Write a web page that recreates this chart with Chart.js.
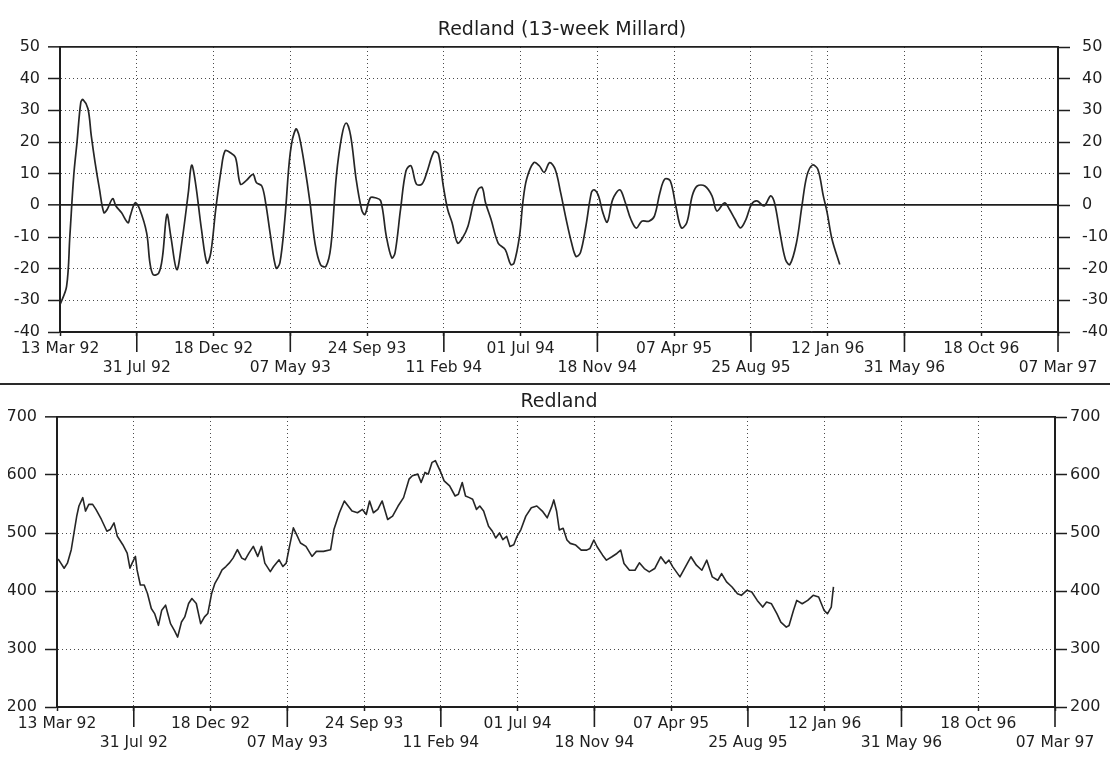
<!DOCTYPE html>
<html>
<head>
<meta charset="utf-8">
<script src="https://cdn.jsdelivr.net/npm/chart.js@4.4.1/dist/chart.umd.min.js"></script>
<style>
  html, body { margin: 0; padding: 0; background: #ffffff; }
  #wrap { position: relative; width: 1110px; height: 761px; overflow: hidden; background: #ffffff; }
  #c1 { position: absolute; left: 0; top: 0; }
  #c2 { position: absolute; left: 0; top: 384px; }
  #sep { position: absolute; left: 0; top: 383px; width: 1110px; height: 0; border-top: 2px solid #2a2a2a; }
</style>
</head>
<body>
<div id="wrap">
  <canvas id="c1" width="1110" height="384"></canvas>
  <canvas id="c2" width="1110" height="377"></canvas>
  <div id="sep"></div>
</div>
<script>
// ---------------- DATA ----------------
// x values are days counted from 13 Mar 92
const tickLabels = ['13 Mar 92','31 Jul 92','18 Dec 92','07 May 93','24 Sep 93','11 Feb 94','01 Jul 94',
                    '18 Nov 94','07 Apr 95','25 Aug 95','12 Jan 96','31 May 96','18 Oct 96','07 Mar 97'];
const tickDays = [0,140,280,420,560,700,840,980,1120,1260,1400,1540,1680,1820];

const millardTicks = [-40,-30,-20,-10,0,10,20,30,40,50];
const priceTicks = [200,300,400,500,600,700];

// Redland (13-week Millard)
const millardDays = [
  0,12,18,25,31,38,42,51,57,64,
  72,80,86,96,102,112,124,128,137,145,
  158,164,170,180,187,195,202,213,222,234,
  240,247,258,268,275,284,294,301,310,320,
  329,339,352,358,368,375,384,394,401,410,
  420,430,436,446,456,465,475,485,494,504,
  514,522,530,540,550,556,566,575,585,595,
  605,611,621,631,640,650,660,669,682,690,
  699,707,715,725,734,744,754,763,770,776,
  786,799,812,822,828,838,844,851,864,874,
  883,893,903,913,923,933,941,949,959,969,
  974,982,990,998,1008,1021,1031,1041,1051,1061,
  1074,1084,1094,1103,1113,1123,1133,1143,1153,1162,
  1176,1189,1198,1212,1221,1231,1241,1251,1261,1271,
  1284,1296,1303,1313,1323,1331,1343,1353,1362,1372,
  1382,1392,1399,1408,1422
];
const millardValues = [
  -31.4,-25.6,-9.7,9.3,19.9,32.6,33.4,30.5,22.0,13.5,
  5.1,-2.3,-1.3,2.1,-0.2,-2.3,-5.5,-3.4,0.8,-1.1,
  -8.7,-18.2,-21.9,-21.4,-16.1,-2.9,-9.7,-20.3,-11.9,4.0,
  12.7,7.2,-7.6,-18.2,-15.0,-1.3,11.4,17.2,16.7,15.1,
  6.7,7.7,9.8,7.2,6.1,0.8,-9.7,-19.8,-18.2,-4.4,
  16.7,24.1,22.0,12.5,0.8,-11.9,-18.7,-19.3,-12.9,9.3,
  22.0,26.0,22.0,8.3,-1.3,-2.9,2.4,2.4,1.4,-9.7,
  -16.6,-15.0,-1.3,10.9,12.5,6.7,6.7,10.4,16.9,16.2,
  6.1,-1.3,-5.5,-11.9,-10.3,-6.6,0.8,5.1,5.6,0.8,
  -4.4,-11.9,-14.0,-18.7,-18.2,-9.7,0.8,8.3,13.5,12.5,
  10.4,13.5,11.4,4.0,-4.4,-11.9,-16.1,-15.0,-6.6,4.0,
  4.9,3.0,-2.3,-5.3,1.9,4.9,0.8,-4.4,-7.2,-5.0,
  -5.0,-3.4,4.0,8.3,7.7,-0.2,-7.1,-5.5,3.0,6.1,
  6.1,3.0,-1.8,0.8,-1.3,-4.4,-7.1,-4.4,0.3,1.4,
  -0.2,3.0,0.8,-8.7,-17.1,-18.7,-11.9,-0.2,9.3,12.7,
  11.4,3.0,-2.3,-10.8,-18.7
];

// Redland price
const priceDays = [
  0,3,7,13,19,26,31,36,40,47,
  52,58,65,71,81,91,97,104,110,120,
  128,133,137,143,146,152,159,165,172,178,
  185,191,198,202,207,214,220,227,233,240,
  246,254,262,269,275,282,288,295,301,308,
  314,321,329,337,343,350,358,366,373,379,
  389,395,405,412,418,424,431,437,444,454,
  465,473,486,499,505,515,524,531,538,548,
  557,564,570,577,585,593,603,612,622,632,
  642,648,658,664,671,677,684,690,700,706,
  716,726,732,739,745,752,758,765,771,778,
  783,787,794,800,807,813,820,826,833,839,
  846,855,865,875,885,894,902,906,911,916,
  923,930,936,946,956,966,972,979,985,995,
  1002,1012,1021,1028,1034,1044,1054,1062,1071,1080,
  1090,1101,1110,1116,1123,1136,1146,1156,1166,1176,
  1185,1195,1205,1212,1221,1231,1241,1248,1258,1267,
  1277,1287,1294,1303,1313,1320,1330,1335,1343,1349,
  1359,1369,1379,1389,1399,1405,1412,1416
];
const priceValues = [
  456,453.8,448.0,439.3,448.0,471.2,500.1,529.1,546.5,561.0,
  537.8,549.4,549.4,540.7,523.3,503.0,505.9,517.5,494.3,479.8,
  465.4,439.3,448.0,459.6,436.4,410.3,410.3,395.8,369.8,361.1,
  340.8,366.9,375.6,361.1,343.7,332.1,320.5,346.6,355.3,378.5,
  387.1,378.5,343.7,355.3,361.1,395.8,413.2,424.8,436.4,442.2,
  448.0,456.7,471.2,456.7,453.8,465.4,476.9,459.6,476.9,448.0,
  433.5,442.2,453.8,442.2,448.0,476.9,508.8,497.2,482.7,476.9,
  459.6,468.3,468.3,471.2,505.9,534.9,555.2,546.5,537.8,534.9,
  540.7,532.0,555.2,534.9,540.7,555.2,523.3,529.1,546.5,561.0,
  592.8,598.6,601.5,587.0,604.4,601.5,621.8,624.7,604.4,589.9,
  581.2,563.8,566.7,587.0,563.8,561.0,558.1,540.7,546.5,537.8,
  523.3,511.7,503.0,491.4,500.1,488.5,494.3,476.9,479.8,494.3,
  505.9,529.1,543.6,546.5,537.8,526.2,545.0,557.0,538.0,505.2,
  508.1,487.9,482.1,479.2,470.5,470.5,473.4,487.9,476.3,461.8,
  453.2,459.0,464.7,470.5,447.4,435.8,435.8,448.6,438.7,433.0,
  438.7,459.0,447.4,453.2,441.6,424.3,441.6,459.0,444.5,435.8,
  453.2,424.3,418.5,430.1,415.6,406.9,395.4,392.5,401.2,398.3,
  383.8,372.3,380.9,378.0,360.7,346.2,337.6,340.5,366.5,383.8,
  378.0,383.8,392.5,389.6,366.5,360.7,372.3,407.0
];

// dotted marker line seen in the upper panel (day from 13 Mar 92)
const markerDay = 1371;

// ---------------- STYLE / HELPERS ----------------
const FONT = 'DejaVu Sans';
const INK = '#1e1e1e';
const GRID = '#4a4a4a';
const CLEAR = 'rgba(0,0,0,0)';
const lastDay = tickDays[tickDays.length - 1];
const longTickDays = tickDays.filter((d, i) => i % 2 === 1);

function tv(c) { return c && c.tick ? c.tick.value : undefined; }

function xAxis(height) {
  return {
    type: 'linear', position: 'bottom', min: tickDays[0], max: lastDay,
    afterBuildTicks: s => { s.ticks = tickDays.map(v => ({ value: v })); },
    afterFit: s => { s.height = height; },
    grid: {
      color: c => (tv(c) === tickDays[0] || tv(c) === lastDay) ? CLEAR : GRID,
      lineWidth: 1, drawTicks: true, tickLength: 4, tickColor: INK, tickWidth: 1.5
    },
    border: { display: true, color: INK, width: 2, dash: [1, 3] },
    ticks: {
      autoSkip: false, maxRotation: 0, minRotation: 0, padding: 3, color: INK,
      font: { family: FONT, size: 15.5, lineHeight: 1.25 },
      callback: (v) => {
        const i = tickDays.indexOf(v);
        if (i < 0) return '';
        return i % 2 === 0 ? [tickLabels[i], ''] : ['', tickLabels[i]];
      }
    }
  };
}

function yLeft(ticksArr, width, solidVals) {
  const mn = ticksArr[0], mx = ticksArr[ticksArr.length - 1];
  return {
    type: 'linear', position: 'left', min: mn, max: mx,
    afterBuildTicks: s => { s.ticks = ticksArr.map(v => ({ value: v })); },
    afterFit: s => { s.width = width; },
    grid: {
      color: c => tv(c) === mn ? CLEAR : (solidVals.includes(tv(c)) ? INK : GRID),
      lineWidth: c => solidVals.includes(tv(c)) ? 1.7 : 1,
      drawTicks: true, tickLength: 12, tickColor: INK, tickWidth: 1.5
    },
    border: { display: true, color: INK, width: 2, dash: c => solidVals.includes(tv(c)) ? [] : [1, 3] },
    ticks: { padding: 8, color: INK, font: { family: FONT, size: 16 } }
  };
}

function yRight(ticksArr, width, pad) {
  const mn = ticksArr[0], mx = ticksArr[ticksArr.length - 1];
  return {
    type: 'linear', position: 'right', min: mn, max: mx,
    afterBuildTicks: s => { s.ticks = ticksArr.map(v => ({ value: v })); },
    afterFit: s => { s.width = width; },
    grid: { drawOnChartArea: false, drawTicks: true, tickLength: 12, tickColor: INK, tickWidth: 1.5 },
    border: { display: true, color: INK, width: 2 },
    ticks: { padding: pad, color: INK, font: { family: FONT, size: 16 } }
  };
}

const longTickPlugin = {
  id: 'longTicks',
  afterDraw(chart) {
    const { ctx, chartArea, scales } = chart;
    const x = scales.x;
    ctx.save();
    ctx.strokeStyle = INK;
    ctx.lineWidth = 1.6;
    longTickDays.forEach(d => {
      const px = x.getPixelForValue(d);
      ctx.beginPath();
      ctx.moveTo(px, chartArea.bottom);
      ctx.lineTo(px, chartArea.bottom + 20);
      ctx.stroke();
    });
    ctx.restore();
  }
};

const markerPlugin = {
  id: 'marker',
  beforeDatasetsDraw(chart, args, opts) {
    if (opts.day == null) return;
    const { ctx, chartArea, scales } = chart;
    const px = scales.x.getPixelForValue(opts.day);
    ctx.save();
    ctx.strokeStyle = GRID;
    ctx.lineWidth = 1;
    ctx.setLineDash([1, 3]);
    ctx.beginPath();
    ctx.moveTo(px, chartArea.top);
    ctx.lineTo(px, chartArea.bottom);
    ctx.stroke();
    ctx.restore();
  }
};

function points(days, vals) { return days.map((d, i) => ({ x: d, y: vals[i] })); }

// ---------------- UPPER PANEL ----------------
new Chart(document.getElementById('c1'), {
  type: 'line',
  data: {
    datasets: [{
      data: points(millardDays, millardValues),
      borderColor: '#262626', borderWidth: 1.7, pointRadius: 0, tension: 0.35,
      borderJoinStyle: 'round', fill: false, xAxisID: 'x', yAxisID: 'y'
    }]
  },
  options: {
    responsive: false, animation: false, events: [],
    layout: { padding: { left: 14, right: 0, top: 8, bottom: 0 } },
    plugins: {
      legend: { display: false }, tooltip: { enabled: false },
      title: { display: true, text: 'Redland (13-week Millard)', color: INK,
               font: { family: FONT, size: 19, weight: 'normal' }, padding: { top: 10.6, bottom: 5.6 } },
      marker: { day: markerDay }
    },
    scales: {
      x: xAxis(52),
      y: yLeft(millardTicks, 46, [0, 50]),
      y2: yRight(millardTicks, 52, 12)
    }
  },
  plugins: [longTickPlugin, markerPlugin]
});

// ---------------- LOWER PANEL ----------------
new Chart(document.getElementById('c2'), {
  type: 'line',
  data: {
    datasets: [{
      data: points(priceDays, priceValues),
      borderColor: '#262626', borderWidth: 1.6, pointRadius: 0, tension: 0,
      borderJoinStyle: 'round', fill: false, xAxisID: 'x', yAxisID: 'y'
    }]
  },
  options: {
    responsive: false, animation: false, events: [],
    layout: { padding: { left: 8, right: 0, top: 0, bottom: 0 } },
    plugins: {
      legend: { display: false }, tooltip: { enabled: false },
      title: { display: true, text: 'Redland', color: INK,
               font: { family: FONT, size: 19, weight: 'normal' }, padding: { top: 6.6, bottom: 3.6 } },
      marker: { day: null }
    },
    scales: {
      x: xAxis(54),
      y: yLeft(priceTicks, 49, [700]),
      y2: yRight(priceTicks, 55, 3)
    }
  },
  plugins: [longTickPlugin, markerPlugin]
});
</script>
</body>
</html>
